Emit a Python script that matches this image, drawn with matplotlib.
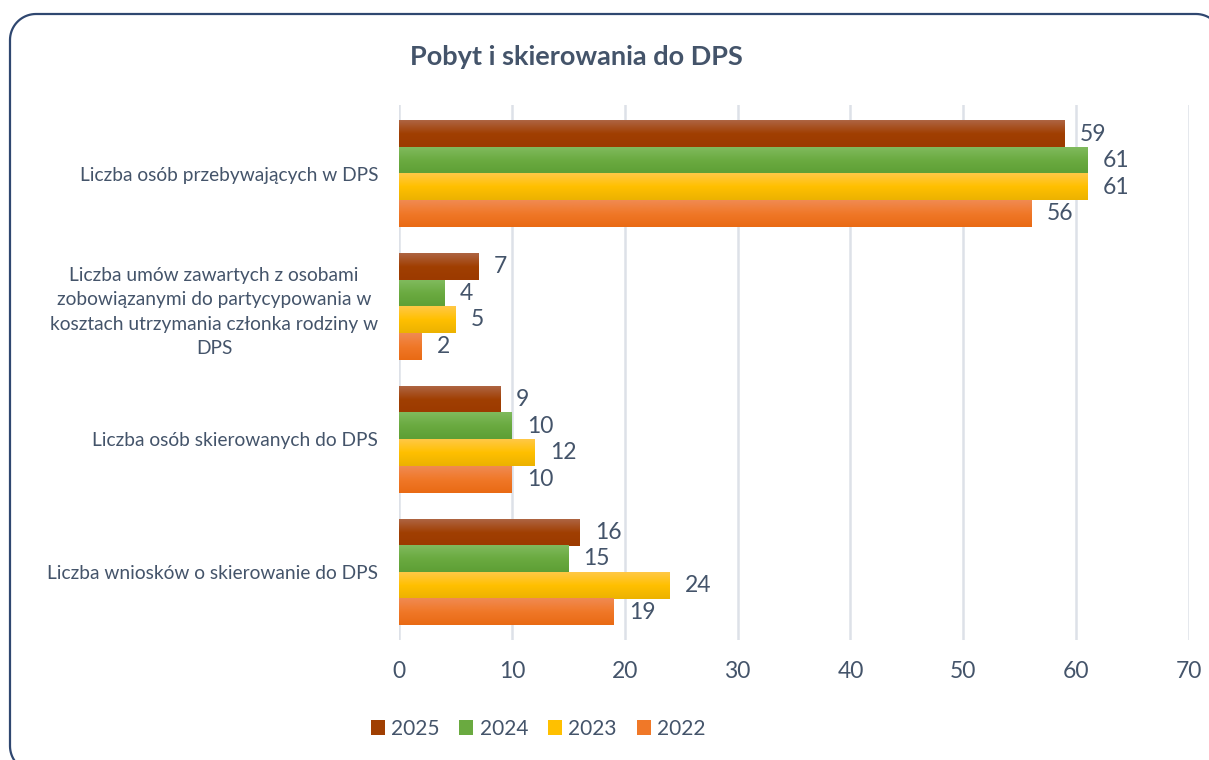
import numpy as np
import matplotlib
matplotlib.use("Agg")
import matplotlib.pyplot as plt
from matplotlib.colors import LinearSegmentedColormap
from matplotlib.patches import Patch, PathPatch
from matplotlib.path import Path

# data
categories = [
    "Liczba osób przebywających w DPS",
    "Liczba umów zawartych z osobami\nzobowiązanymi do partycypowania w\nkosztach utrzymania członka rodziny w\nDPS",
    "Liczba osób skierowanych do DPS",
    "Liczba wniosków o skierowanie do DPS",
]
years = ["2025", "2024", "2023", "2022"]
v2025 = [59, 7, 9, 16]
v2024 = [61, 4, 10, 15]
v2023 = [61, 5, 12, 24]
v2022 = [56, 2, 10, 19]
series = [v2025, v2024, v2023, v2022]

# gradient colours: top, middle, bottom
grads = [
    ("#AE6442", "#A03F02", "#9C3A00"),
    ("#80BA5D", "#6AAA40", "#5E9F35"),
    ("#FFC846", "#FFC000", "#ECB200"),
    ("#F08A52", "#F07828", "#E96A14"),
]
text_col = "#44546A"

plt.rcParams["font.family"] = ["Lato", "DejaVu Sans"]

fig = plt.figure(figsize=(12.09, 7.6), dpi=100)

# rounded frame, drawn in a full-figure axes using pixel units
bg = fig.add_axes([0, 0, 1, 1])
bg.set_xlim(0, 1209)
bg.set_ylim(0, 760)
bg.axis("off")
left, right, top, bottom, r = 10, 1222, 746, -12, 26
verts, codes = [], []
corners = [(right - r, top - r, 0), (left + r, top - r, 90),
           (left + r, bottom + r, 180), (right - r, bottom + r, 270)]
for cx, cy, a0 in corners:
    t = np.radians(np.linspace(a0, a0 + 90, 20))
    for x, y in zip(cx + r * np.cos(t), cy + r * np.sin(t)):
        verts.append((x, y))
        codes.append(Path.LINETO)
codes[0] = Path.MOVETO
verts.append(verts[0])
codes.append(Path.CLOSEPOLY)
bg.add_patch(PathPatch(Path(verts, codes), fill=False, edgecolor="#2F4770",
                       linewidth=1.6, clip_on=False))

ax = fig.add_axes([0.330, 0.158, 0.6535, 0.704])

n = len(categories)
ypos = np.arange(n)[::-1]
h = 0.2
offsets = [1.5 * h, 0.5 * h, -0.5 * h, -1.5 * h]

for vals, off, g, yr in zip(series, offsets, grads, years):
    bars = ax.barh(ypos + off, vals, height=h, color=g[1], label=yr, zorder=2)
    cmap = LinearSegmentedColormap.from_list(yr, [g[2], g[1], g[0]])
    for b in bars:
        x0, y0 = b.get_x(), b.get_y()
        ax.imshow(np.linspace(0, 1, 64).reshape(-1, 1), cmap=cmap, aspect="auto",
                  origin="lower", extent=[x0, x0 + b.get_width(), y0, y0 + b.get_height()],
                  zorder=3)
    for b, v in zip(bars, vals):
        ax.annotate(str(v), (b.get_width(), b.get_y() + b.get_height() / 2),
                    xytext=(11, 0), textcoords="offset points", ha="left", va="center",
                    fontsize=16.5, color=text_col)

ax.set_xlim(0, 70)
ax.set_ylim(-0.51, 3.52)
ax.set_xticks(range(0, 71, 10))
ax.set_yticks(ypos)
ax.set_yticklabels(categories, fontsize=13.8, color=text_col, ha="right",
                   multialignment="center", linespacing=1.54)
ax.tick_params(axis="y", length=0, pad=15)
ax.tick_params(axis="x", length=0, pad=15, labelsize=16.5, labelcolor=text_col)
ax.grid(axis="x", color="#DDE1E8", linewidth=1.8, zorder=0)
for s in ax.spines.values():
    s.set_visible(False)

fig.text(0.477, 0.925, "Pobyt i skierowania do DPS", ha="center", va="center",
         fontsize=19.5, fontweight="bold", color=text_col)

handles = [Patch(facecolor=g[1]) for g in grads]
fig.legend(handles, years, loc="center", bbox_to_anchor=(0.445, 0.041), ncol=4, frameon=False,
           fontsize=15, labelcolor=text_col, handlelength=0.67, handleheight=0.67,
           handletextpad=0.3, columnspacing=0.96)

fig.savefig("out.png", dpi=100)
